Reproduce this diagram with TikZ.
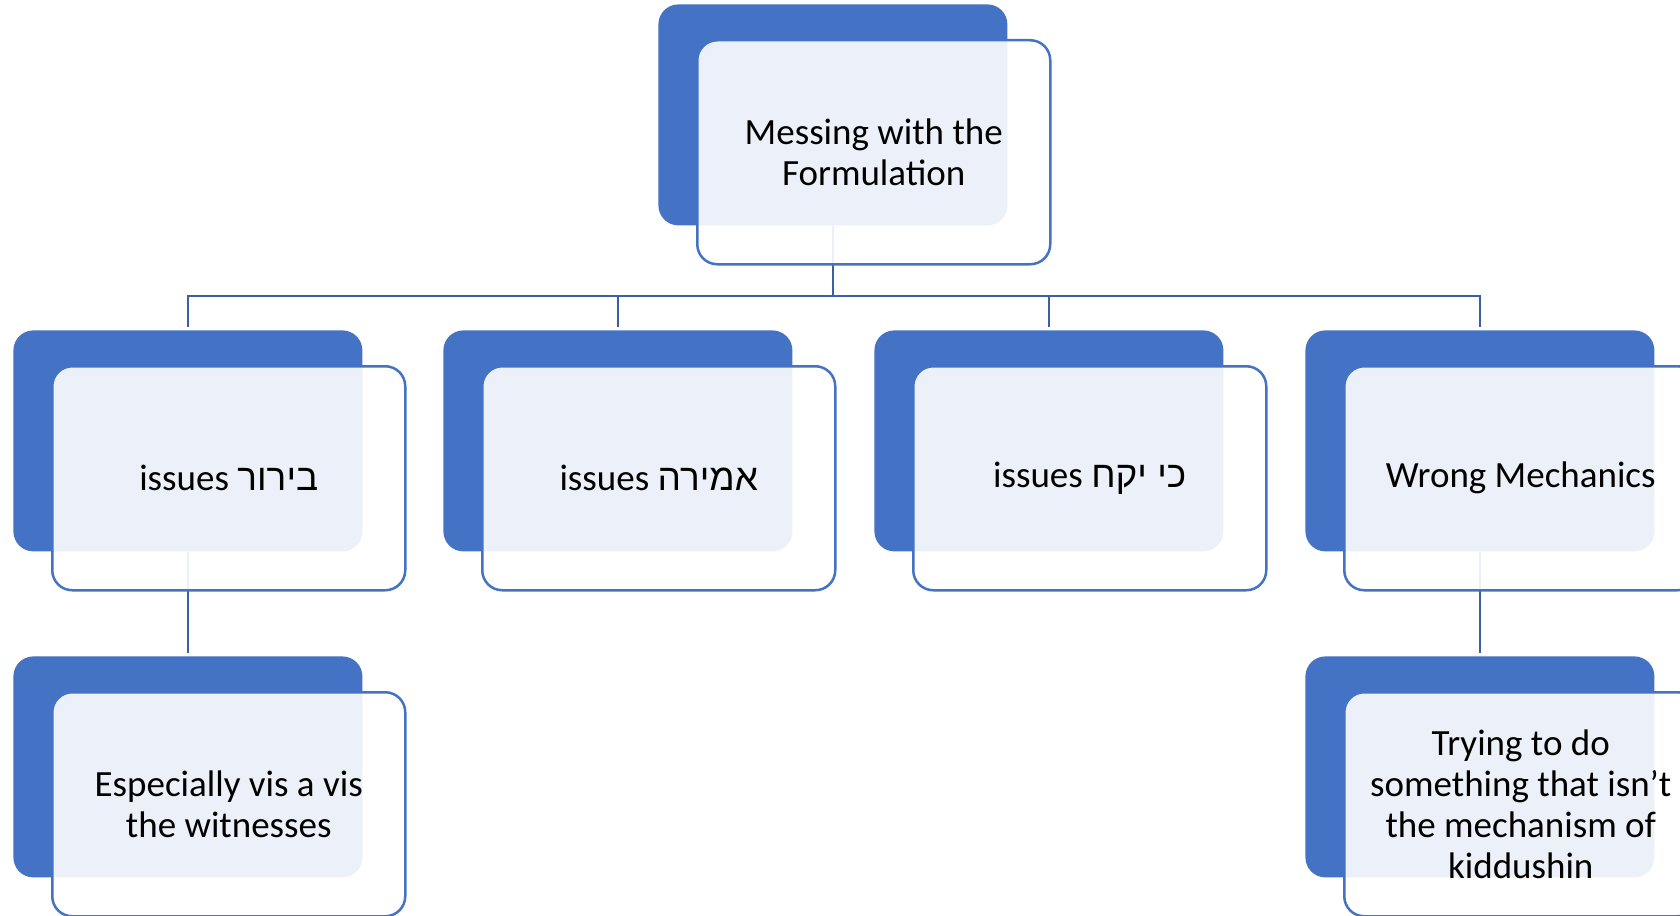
\documentclass[tikz,border=0pt]{standalone}
\usepackage{fontspec}
\setmainfont{Carlito}
\newfontfamily\hebfont[Script=Hebrew]{Liberation Sans}
\TeXXeTstate=1
\definecolor{boxblue}{HTML}{4472C4}
\definecolor{linkblue}{HTML}{3B5EA6}
\tikzset{
	back/.style = {fill=boxblue, rounded corners=10pt, inner sep=0pt,
		minimum width=174.5pt, minimum height=110.5pt, anchor=north west},
	front/.style = {draw=boxblue, line width=1.25pt, fill=white, fill opacity=0.9,
		text opacity=1, rounded corners=10pt, inner sep=0pt, align=center,
		minimum width=176.5pt, minimum height=112pt, anchor=north west,
		font=\fontsize{18.5}{20.5}\selectfont},
	link/.style = {draw=linkblue, line width=1.4pt, shorten >=1.5pt}
}

\begin{document}
\begin{tikzpicture}[x=0.5pt, y=-0.5pt]
	\useasboundingbox (0,0) rectangle (1680,915);
	\clip (0,0) rectangle (1680,915);
	% back boxes
	\node[back] (top) at (658,4) {};
	\node[back] (birur) at (13,330) {};
	\node[back] (amira) at (443,330) {};
	\node[back] (kiyikach) at (874,330) {};
	\node[back] (mech) at (1305,330) {};
	\node[back] (witn) at (13,656) {};
	\node[back] (kidd) at (1305,656) {};
	\coordinate (bus) at (0,296);
	% connectors
	\draw[link] (top.south) -- (top.south |- bus) -| (birur.north);
	\draw[link] (top.south) -- (top.south |- bus) -| (amira.north);
	\draw[link] (top.south) -- (top.south |- bus) -| (kiyikach.north);
	\draw[link] (top.south) -- (top.south |- bus) -| (mech.north);
	\draw[link] (birur.south) -- (witn.north);
	\draw[link] (mech.south) -- (kidd.north);
	% front boxes
	\node[front] (topF) at ([xshift=19pt,yshift=-17.5pt]top.north west) {Messing with the\\Formulation};
	\node[front] (birurF) at ([xshift=19pt,yshift=-17.5pt]birur.north west) {issues {\hebfont\beginR בירור\endR}};
	\node[front] (amiraF) at ([xshift=19pt,yshift=-17.5pt]amira.north west) {issues {\hebfont\beginR אמירה\endR}};
	\node[front] (kiyikachF) at ([xshift=19pt,yshift=-17.5pt]kiyikach.north west) {issues {\hebfont\beginR כי יקח\endR}};
	\node[front] (mechF) at ([xshift=19pt,yshift=-17.5pt]mech.north west) {Wrong Mechanics};
	\node[front] (witnF) at ([xshift=19pt,yshift=-17.5pt]witn.north west) {Especially vis a vis\\the witnesses};
	\node[front] (kiddF) at ([xshift=19pt,yshift=-17.5pt]kidd.north west) {Trying to do\\something that isn’t\\the mechanism of\\kiddushin};
\end{tikzpicture}
\end{document}
